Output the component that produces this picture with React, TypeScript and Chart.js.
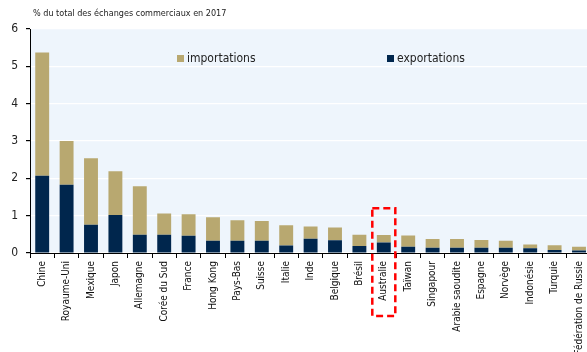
import React, { useEffect, useRef } from "react";
import { Chart, registerables } from "chart.js";

Chart.register(...registerables);

const countries = [
  "Chine", "Royaume-Uni", "Mexique", "Japon", "Allemagne", "Corée du Sud", "France",
  "Hong Kong", "Pays-Bas", "Suisse", "Italie", "Inde", "Belgique", "Brésil", "Australie",
  "Taïwan", "Singapour", "Arabie saoudite", "Espagne", "Norvège", "Indonésie", "Turquie",
  "Fédération de Russie",
];
const exportations = [
  2.07, 1.83, 0.76, 1.02, 0.49, 0.49, 0.46, 0.33, 0.33, 0.33, 0.2, 0.38, 0.34, 0.19, 0.28,
  0.17, 0.14, 0.14, 0.14, 0.14, 0.125, 0.08, 0.07,
];
const importations = [
  3.3, 1.17, 1.78, 1.17, 1.3, 0.57, 0.58, 0.63, 0.55, 0.53, 0.54, 0.33, 0.34, 0.3, 0.2,
  0.3, 0.235, 0.235, 0.21, 0.19, 0.105, 0.125, 0.1,
];
const yTicks = [0, 1, 2, 3, 4, 5, 6];
const title = "% du total des échanges commerciaux en 2017";
const highlighted = "Australie";

const FONT = "'DejaVu Sans Condensed', 'DejaVu Sans', sans-serif";

export default function App() {
  const ref = useRef<HTMLCanvasElement | null>(null);
  useEffect(() => {
    const bgPlugin = {
      id: "bg",
      beforeDraw(chart: any) {
        const { ctx, chartArea: a } = chart;
        ctx.save();
        ctx.fillStyle = "#eef5fc";
        ctx.fillRect(a.left, a.top, a.right - a.left, a.bottom - a.top);
        ctx.restore();
      },
      afterDraw(chart: any) {
        const { ctx, chartArea: a, scales } = chart;
        ctx.save();
        // title
        ctx.fillStyle = "#222";
        ctx.font = `9px ${FONT}`;
        ctx.textBaseline = "middle";
        ctx.textAlign = "left";
        ctx.fillText(title, a.left + 3, 14);
        // legend
        const items = [
          { label: "importations", color: "#b8a870", x: a.left + 147 },
          { label: "exportations", color: "#00264d", x: a.left + 357 },
        ];
        ctx.font = `12px ${FONT}`;
        items.forEach((it) => {
          ctx.fillStyle = it.color;
          ctx.fillRect(it.x, a.top + 26, 7, 7);
          ctx.fillStyle = "#222";
          ctx.fillText(it.label, it.x + 10, a.top + 30);
        });
        // highlight box
        const idx = countries.indexOf(highlighted);
        const cx = scales.x.getPixelForValue(idx);
        const top = scales.y.getPixelForValue(1.2);
        const bottom = a.bottom + 63;
        ctx.strokeStyle = "#ff0000";
        ctx.lineWidth = 2.5;
        ctx.setLineDash([7, 4]);
        ctx.strokeRect(cx - 11.5, top, 23, bottom - top);
        ctx.restore();
      },
    };
    const chart = new Chart(ref.current as HTMLCanvasElement, {
      type: "bar",
      data: {
        labels: countries,
        datasets: [
          {
            label: "exportations",
            data: exportations,
            backgroundColor: "#00264d",
            categoryPercentage: 1,
            barPercentage: 0.57,
          },
          {
            label: "importations",
            data: importations,
            backgroundColor: "#b8a870",
            categoryPercentage: 1,
            barPercentage: 0.57,
          },
        ],
      },
      options: {
        animation: false,
        responsive: true,
        maintainAspectRatio: false,
        layout: { padding: { top: 29, right: 0, left: 0, bottom: 0 } },
        plugins: { legend: { display: false }, tooltip: { enabled: false } },
        scales: {
          x: {
            stacked: true,
            grid: { drawOnChartArea: false, drawTicks: true, tickLength: 5, tickColor: "#000" },
            border: { color: "#000", width: 1 },
            ticks: {
              autoSkip: false,
              minRotation: 90,
              maxRotation: 90,
              padding: 3,
              color: "#111",
              font: { family: FONT, size: 10 },
            },
            afterFit: (s: any) => {
              s.height = 99;
            },
          },
          y: {
            stacked: true,
            min: 0,
            max: 6,
            afterBuildTicks: (s: any) => {
              s.ticks = yTicks.map((v) => ({ value: v }));
            },
            grid: { color: "#ffffff", lineWidth: 1.2, tickLength: 4, tickColor: "#000" },
            border: { color: "#000", width: 1 },
            ticks: {
              padding: 8,
              color: "#222",
              font: { family: FONT, size: 12 },
            },
            afterFit: (s: any) => {
              s.width = 30;
            },
          },
        },
      },
      plugins: [bgPlugin],
    });
    return () => chart.destroy();
  }, []);
  return (
    <div style={{ position: "fixed", left: 0, top: 0, width: 594, height: 352 }}>
      <canvas ref={ref} />
    </div>
  );
}
